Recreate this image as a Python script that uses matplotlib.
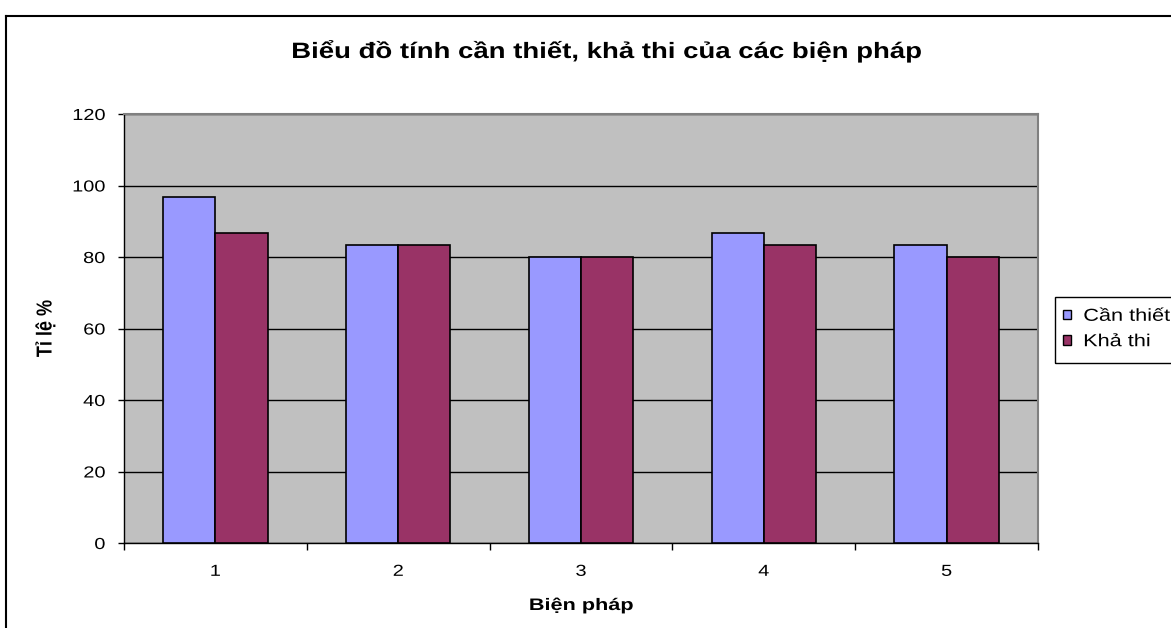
import matplotlib
matplotlib.use("Agg")
import matplotlib.pyplot as plt
import numpy as np
from matplotlib.lines import Line2D
from matplotlib.patches import Patch, Rectangle
from matplotlib.patheffects import AbstractPathEffect
from matplotlib.transforms import Affine2D

plt.rcParams["font.family"] = ["Liberation Sans", "DejaVu Sans"]

# measures 1..5, share of respondents (%)
measures = ["1", "2", "3", "4", "5"]
can_thiet = [96.7, 83.3, 80, 86.7, 83.3]
kha_thi = [86.7, 83.3, 80, 83.3, 80]
series_names = ["Cần thiết", "Khả thi"]
y_ticks = [0, 20, 40, 60, 80, 100, 120]

BLUE, PLUM = "#9999FF", "#993366"
W, H = 1171, 628
WIDE = 1.25  # glyphs are drawn wider than the stock font


class Widen(AbstractPathEffect):
    """Stretch text glyphs in their own frame about a chosen anchor."""

    def __init__(self, sx=WIDE, sy=1.0, anchor="center"):
        super().__init__()
        self.sx, self.sy, self.anchor = sx, sy, anchor

    def draw_path(self, renderer, gc, tpath, affine, rgbFace=None):
        ext = tpath.get_extents()
        x0 = {"left": ext.x0, "center": 0.5 * (ext.x0 + ext.x1), "right": ext.x1}[self.anchor]
        y0 = 0.5 * (ext.y0 + ext.y1)
        st = Affine2D().translate(-x0, -y0).scale(self.sx, self.sy).translate(x0, y0)
        renderer.draw_path(gc, tpath, st + affine, rgbFace)


fig = plt.figure(figsize=(W / 100, H / 100), dpi=100)
ax = fig.add_axes([124 / W, 1 - 543 / H, (1038 - 124) / W, (543 - 114) / H])
ax.set_facecolor("#C0C0C0")

x = np.arange(1, len(measures) + 1)
bw = 1 / 3.5  # gap width of 150%
ax.bar(x - bw / 2, can_thiet, bw, color=BLUE, edgecolor="black", linewidth=1.2, zorder=3)
ax.bar(x + bw / 2, kha_thi, bw, color=PLUM, edgecolor="black", linewidth=1.2, zorder=3)

ax.set_xlim(0.5, len(measures) + 0.5)
ax.set_ylim(0, 120)
ax.set_yticks(y_ticks)
ax.yaxis.grid(True, color="black", linewidth=1.0, zorder=1)
ax.set_axisbelow(True)

ax.set_xticks(x)
ax.set_xticklabels(measures)
ax.set_xticks(np.arange(0.5, len(measures) + 1), minor=True)
ax.tick_params(axis="x", which="major", length=0, pad=15, labelsize=11.5)
ax.tick_params(axis="x", which="minor", length=5, width=1, direction="out")
ax.tick_params(axis="y", length=4, width=1, direction="out", pad=9.5, labelsize=11.5)
for lab in ax.get_xticklabels():
    lab.set_path_effects([Widen(anchor="center")])
for lab in ax.get_yticklabels():
    lab.set_path_effects([Widen(anchor="right")])

for side in ("top", "right"):
    ax.spines[side].set_color("#808080")
    ax.spines[side].set_linewidth(1.5)
for side in ("left", "bottom"):
    ax.spines[side].set_color("black")
    ax.spines[side].set_linewidth(1.0)

ax.set_xlabel("Biện pháp", fontsize=12, fontweight="bold",
              path_effects=[Widen(sx=1.3, anchor="center")])
ax.xaxis.set_label_coords(0.5, (543 - 610) / 429)
ax.xaxis.label.set_va("baseline")
ax.set_ylabel("Tỉ lệ %", fontsize=13, fontweight="bold",
              path_effects=[Widen(sx=1.0, sy=1.2, anchor="center")])
ax.yaxis.set_label_coords((46 - 124) / 914, 0.5)
ax.yaxis.label.set_va("center")

fig.text(606 / W, 1 - 58 / H, "Biểu đồ tính cần thiết, khả thi của các biện pháp",
         ha="center", va="baseline", fontsize=16, fontweight="bold",
         path_effects=[Widen(sx=1.24, anchor="center")])

# outer chart frame (runs off the right and bottom edges)
fig.add_artist(Line2D([6 / W, 1], [1 - 16 / H] * 2, color="black", linewidth=1.5,
                      transform=fig.transFigure))
fig.add_artist(Line2D([6 / W] * 2, [0, 1 - 16 / H], color="black", linewidth=1.5,
                      transform=fig.transFigure))

# legend box, also running past the right edge
fig.add_artist(Rectangle((1055 / W, 1 - 363 / H), 200 / W, 66 / H, fill=False,
                         edgecolor="black", linewidth=1.0, transform=fig.transFigure))
handles = [Patch(facecolor=BLUE, edgecolor="black", linewidth=1.0),
           Patch(facecolor=PLUM, edgecolor="black", linewidth=1.0)]
leg = fig.legend(handles, series_names, loc="center left",
                 bbox_to_anchor=(1063 / W, 1 - 329 / H), fontsize=12.5, frameon=False,
                 handlelength=0.48, handleheight=0.48, handletextpad=0.7,
                 borderpad=0, labelspacing=0.6, borderaxespad=0)
for t in leg.get_texts():
    t.set_path_effects([Widen(anchor="left")])

fig.savefig("out.png", dpi=100)
